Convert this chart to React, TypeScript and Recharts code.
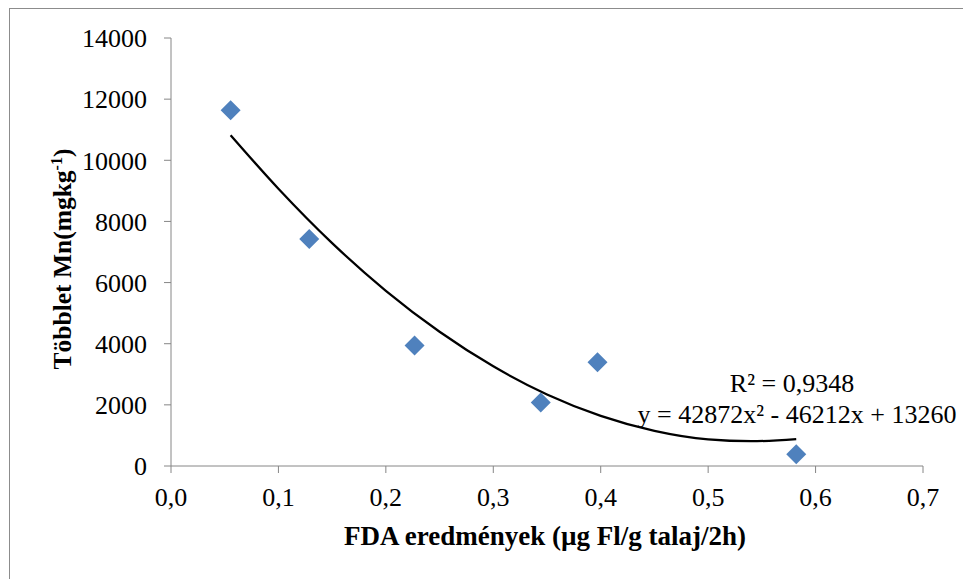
import {
  ComposedChart,
  Scatter,
  Line,
  XAxis,
  YAxis,
  Label,
} from 'recharts'

// measured points (FDA result vs. excess Mn)
const fdaValues = [0.0555, 0.1287, 0.2267, 0.3442, 0.397, 0.582]
const mnValues = [11635, 7425, 3938, 2074, 3392, 383]

// polynomial trendline as drawn in the picture
const trendX = [0.0555, 0.1, 0.15, 0.2, 0.25, 0.3, 0.35, 0.4, 0.45, 0.5, 0.54, 0.582]
const trendY = [10820, 9070, 7290, 5730, 4390, 3260, 2340, 1640, 1150, 870, 810, 880]

const xTicks = [0, 0.1, 0.2, 0.3, 0.4, 0.5, 0.6, 0.7]
const yTicks = [0, 2000, 4000, 6000, 8000, 10000, 12000, 14000]

const FONT = "'Liberation Serif'"
const AXIS_GRAY = '#868686'
const tickStyle = { fontFamily: FONT, fontSize: 26 }
const titleStyle = { fontFamily: FONT, fontSize: 27, fontWeight: 'bold' as const }

const points = fdaValues.map((x, i) => ({ x, y: mnValues[i] }))
const trend = trendX.map((x, i) => ({ x, y: trendY[i] }))

function Diamond(props: any) {
  const { cx, cy } = props
  if (cx == null || cy == null) return null
  const s = 10
  return (
    <polygon
      points={`${cx},${cy - s} ${cx + s},${cy} ${cx},${cy + s} ${cx - s},${cy}`}
      fill="#4f81bd"
    />
  )
}

function XTitle(props: any) {
  const { viewBox } = props
  const cx = viewBox.x + viewBox.width / 2
  return (
    <text x={cx - 2} y={545} textAnchor="middle" style={titleStyle} fill="#000">
      FDA eredmények (µg Fl/g talaj/2h)
    </text>
  )
}

function YTitle() {
  const x = 71
  const y = 259
  return (
    <text
      x={x}
      y={y}
      transform={`rotate(-90 ${x} ${y})`}
      textAnchor="middle"
      style={{ ...titleStyle, fontSize: 25.5 }}
      fill="#000"
    >
      Többlet Mn(mgkg
      <tspan dy={-9} style={{ fontSize: 16 }}>-1</tspan>
      <tspan dy={9}>)</tspan>
    </text>
  )
}

export default function App() {
  return (
    <div
      style={{
        position: 'absolute',
        left: 0,
        top: 0,
        width: 963,
        height: 579,
        overflow: 'hidden',
        background: '#fff',
        fontFamily: FONT,
      }}
    >
      <div
        style={{
          position: 'absolute',
          left: 9,
          top: 8,
          width: 1000,
          height: 1000,
          border: '1px solid #8c8c8c',
        }}
      />
      <div style={{ position: 'absolute', left: 0, top: 0 }}>
        <ComposedChart
          width={963}
          height={579}
          margin={{ top: 38, right: 40, bottom: 23, left: 0 }}
        >
          <XAxis
            type="number"
            dataKey="x"
            domain={[0, 0.7]}
            ticks={xTicks}
            tickFormatter={(v: number) => v.toFixed(1).replace('.', ',')}
            height={90}
            tickSize={7}
            tickMargin={15}
            stroke={AXIS_GRAY}
            tick={{ fill: '#000', fontSize: 26, style: tickStyle }}
            allowDataOverflow
          >
            <Label content={<XTitle />} />
          </XAxis>
          <YAxis
            type="number"
            dataKey="y"
            domain={[0, 14000]}
            ticks={yTicks}
            width={171}
            tickSize={7}
            tickMargin={17}
            stroke={AXIS_GRAY}
            tick={{ fill: '#000', fontSize: 26, style: tickStyle }}
            allowDataOverflow
          >
            <Label content={<YTitle />} />
          </YAxis>
          <Line
            data={trend}
            dataKey="y"
            type="monotone"
            stroke="#000"
            strokeWidth={2.25}
            dot={false}
            activeDot={false}
            isAnimationActive={false}
          />
          <Scatter
            data={points}
            dataKey="y"
            shape={<Diamond />}
            isAnimationActive={false}
          />
        </ComposedChart>
      </div>
      <svg
        width={963}
        height={579}
        style={{ position: 'absolute', left: 0, top: 0, pointerEvents: 'none' }}
      >
        <text x={792} y={392} textAnchor="middle" style={tickStyle} fill="#000">
          R² = 0,9348
        </text>
        <text x={797} y={423} textAnchor="middle" style={tickStyle} fill="#000">
          y = 42872x² - 46212x + 13260
        </text>
      </svg>
    </div>
  )
}
